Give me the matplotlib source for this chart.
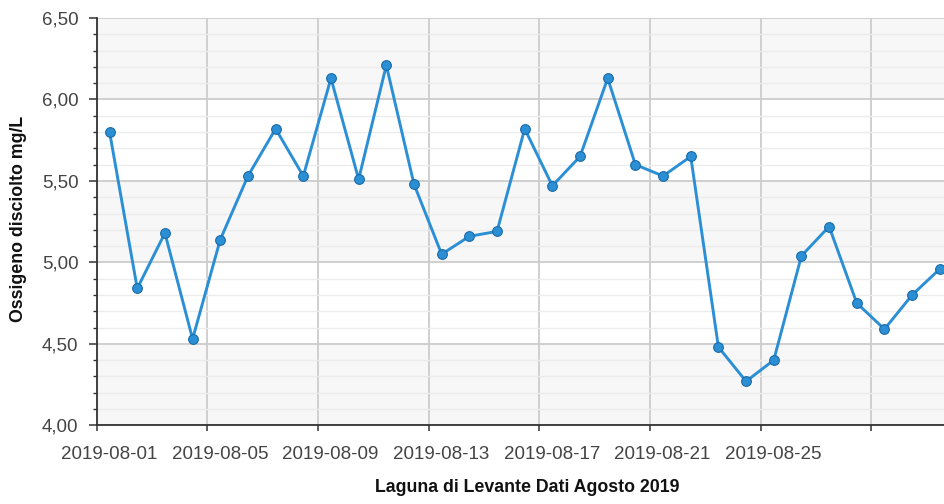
import matplotlib
matplotlib.use("Agg")
import matplotlib.pyplot as plt
import matplotlib.dates as mdates
import matplotlib.transforms as mtransforms
from matplotlib.ticker import FuncFormatter, MultipleLocator
import pandas as pd
import numpy as np

# ---- data ----
dates = pd.date_range("2019-08-01", "2019-08-31", freq="D")
oxygen = [5.80, 4.84, 5.18, 4.53, 5.14, 5.53, 5.82, 5.53, 6.13, 5.51,
          6.21, 5.48, 5.05, 5.16, 5.19, 5.82, 5.47, 5.65, 6.13, 5.60,
          5.53, 5.65, 4.48, 4.27, 4.40, 5.04, 5.22, 4.75, 4.59, 4.80, 4.96]
tick_dates = pd.date_range("2019-08-01", "2019-08-29", freq="4D")
tick_labels = ["2019-08-01", "2019-08-05", "2019-08-09", "2019-08-13",
               "2019-08-17", "2019-08-21", "2019-08-25", ""]
x_title = "Laguna di Levante Dati Agosto 2019"
y_title = "Ossigeno disciolto mg/L"

plt.rcParams['font.family'] = ['Liberation Sans', 'DejaVu Sans']

W, H, DPI = 944, 504, 100
fig = plt.figure(figsize=(W / DPI, H / DPI), dpi=DPI)
x0, x1, ytop, ybot = 96.6, 944, 18, 425.3
ax = fig.add_axes([x0 / W, (H - ybot) / H, (x1 - x0) / W, (ybot - ytop) / H])

# points are placed at ~11:15 each day
xs = dates + pd.Timedelta(hours=11, minutes=15)

# alternating bands
for lo in [4.0, 5.0, 6.0]:
    ax.axhspan(lo, lo + 0.5, color="#f7f7f7", zorder=0, lw=0)

ax.set_ylim(4.0, 6.5)
ax.set_xlim(pd.Timestamp("2019-08-01"), pd.Timestamp("2019-08-01") + pd.Timedelta(days=30.62))

ax.yaxis.set_major_locator(MultipleLocator(0.5))
ax.yaxis.set_minor_locator(MultipleLocator(0.1))
ax.yaxis.set_major_formatter(FuncFormatter(lambda v, p: f"{v:.2f}".replace(".", ",")))

ax.set_xticks(mdates.date2num(tick_dates))
ax.set_xticklabels(tick_labels)

ax.grid(True, which="major", color="#cccccc", lw=1.3, zorder=1)
ax.grid(True, which="minor", axis="y", color="#ececec", lw=1.0, zorder=1)
ax.set_axisbelow(True)

ax.plot(xs, oxygen, color="#2b8fd6", lw=2.1, marker="o", ms=7.0,
        markerfacecolor="#2b8fd6", markeredgecolor="#1a6aa6", markeredgewidth=0.8,
        zorder=3, clip_on=False)

for s in ["top", "right"]:
    ax.spines[s].set_visible(False)
for s in ["left", "bottom"]:
    ax.spines[s].set_color("#333333")
    ax.spines[s].set_linewidth(1.3)

ax.tick_params(axis="y", which="major", length=6, width=1.1, color="#333333",
               labelsize=13.5, labelcolor="#444444", pad=7)
ax.tick_params(axis="y", which="minor", length=3, width=1.0, color="#333333")
ax.tick_params(axis="x", which="major", length=4.5, width=1.1, color="#333333",
               labelsize=13.5, labelcolor="#444444", pad=10.5)

offset = mtransforms.ScaledTranslation(0.125, 0, fig.dpi_scale_trans)
for lab in ax.get_xticklabels():
    lab.set_transform(lab.get_transform() + offset)

fig.text(527 / W, 1 - 488 / H, x_title, ha="center", va="center",
         fontsize=12.8, fontweight="bold", color="#111111")
fig.text(19 / W, 1 - 218.5 / H, y_title, ha="center", va="center", rotation=90,
         fontsize=12.8, fontweight="bold", color="#111111")

fig.savefig("out.png", dpi=DPI)
